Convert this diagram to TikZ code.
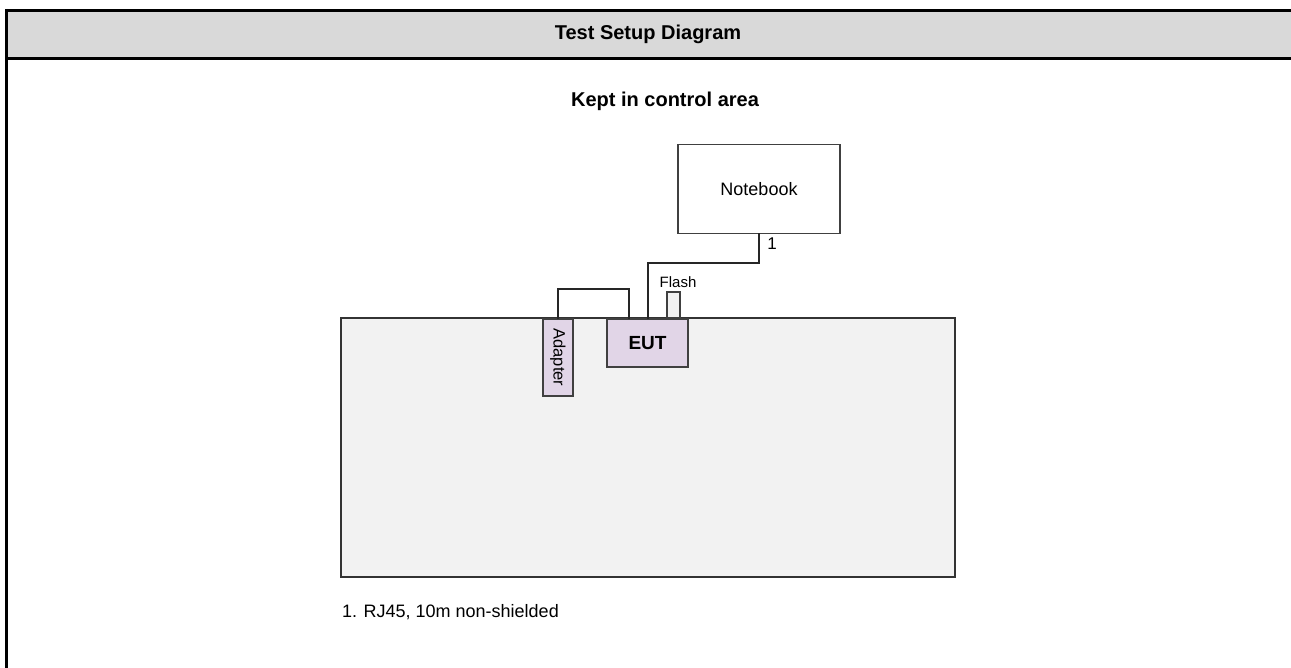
\documentclass[tikz,border=0pt]{standalone}
\usepackage{fontspec}
\setmainfont{Liberation Sans}
\begin{document}
\begin{tikzpicture}[x=1pt,y=-1pt,
  box/.style={draw=black!75, line width=1.2pt, inner sep=0pt, outer sep=0pt},
  cable/.style={draw=black!85, line width=1.2pt},
  lbl/.style={inner sep=0pt, outer sep=0pt}]
\useasboundingbox (0,0) rectangle (1291,668);
\fill[white] (0,0) rectangle (1291,668);
% header band
\fill[black!15] (6.5,10.5) rectangle (1291,58.7);
\draw[line width=3pt] (6.5,9) -- (6.5,668);
\draw[line width=3pt] (5,10.5) -- (1291,10.5);
\draw[line width=2.5pt] (6.5,58.7) -- (1291,58.7);
\node[lbl, font=\bfseries\fontsize{20}{24}\selectfont] (title) at (648,34) {Test Setup Diagram};
\node[lbl, font=\bfseries\fontsize{20}{24}\selectfont] (area) at (665,101) {Kept in control area};
% table
\node[box, draw=black!80, line width=1.5pt, fill=black!5, minimum width=614pt, minimum height=259pt] (table) at (648,447.5) {};
% notebook
\node[box, fill=white, minimum width=162pt, minimum height=89pt, font=\fontsize{18}{22}\selectfont] (nb) at (759,189) {Notebook};
\coordinate (c1) at (648,263);
\coordinate (c2) at (629,289);
% devices
\node[box, fill=black!5, minimum width=13pt, minimum height=26pt] (flash) at (673.5,305) {};
\node[lbl, font=\fontsize{15}{18}\selectfont] (flashlbl) at (678,282) {Flash};
\node[box, fill={rgb,255:red,225;green,213;blue,231}, minimum width=81pt, minimum height=48pt, font=\bfseries\fontsize{19}{22}\selectfont] (eut) at (647.5,343) {EUT};
\node[box, fill={rgb,255:red,225;green,213;blue,231}, minimum width=30pt, minimum height=77pt] (ad) at (558,357.5) {};
\node[lbl, rotate=-90, font=\fontsize{16.5}{20}\selectfont] (adlbl) at (ad.center) {Adapter};
% cables
\draw[cable] (nb.south) |- (c1) -- (c1 |- eut.north);
\draw[cable] (ad.north) |- (c2) -- (c2 |- eut.north);
\node[lbl, font=\fontsize{17}{20}\selectfont] (one) at (772,244) {1};
\node[lbl, anchor=west, font=\fontsize{18}{22}\selectfont] (note) at (342,612) {1. RJ45, 10m non-shielded};
\end{tikzpicture}
\end{document}
